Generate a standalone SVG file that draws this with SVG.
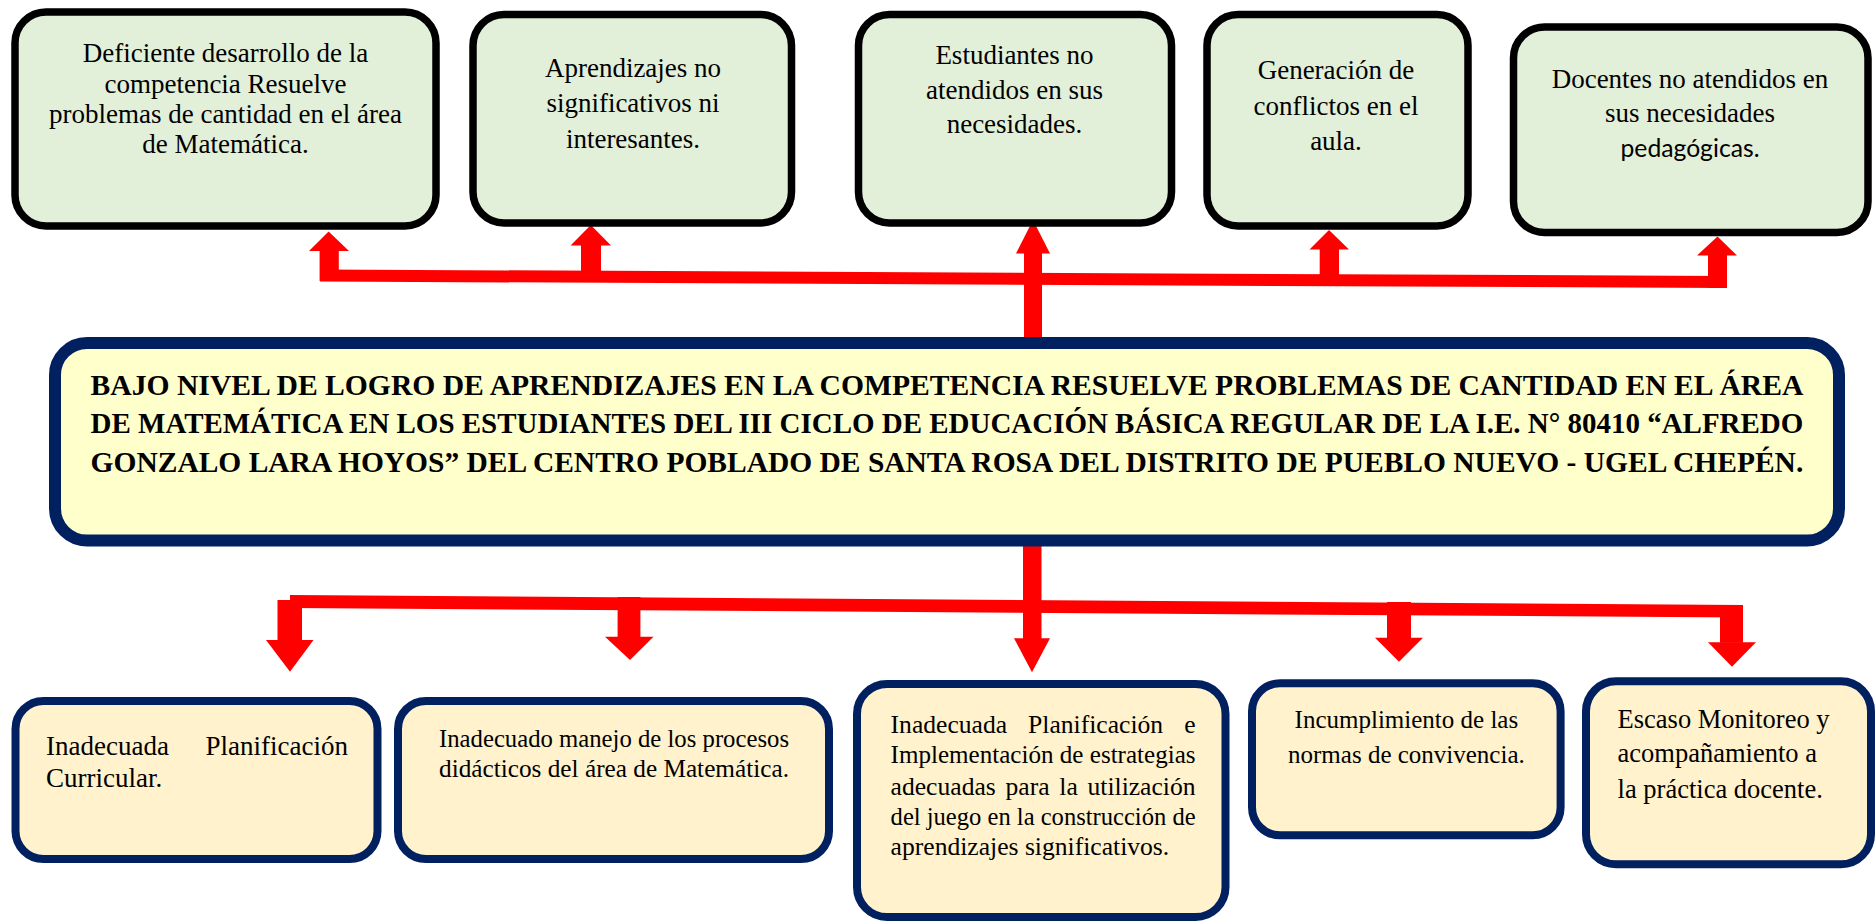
<svg xmlns="http://www.w3.org/2000/svg" width="1876" height="921" viewBox="0 0 1876 921">
<style>
.top{fill:#E2EFD9;stroke:#000;stroke-width:7.5}
.main{fill:#FFFFCC;stroke:#002060;stroke-width:12}
.bot{fill:#FFF2CC;stroke:#002060;stroke-width:8}
.t{font-family:"Liberation Serif","Times New Roman",serif;font-size:27px;fill:#000}
.s{font-family:Lato,"Liberation Sans",sans-serif;font-size:24.5px;fill:#000}
.m{text-anchor:middle}
.e{text-anchor:end}
.b{font-weight:bold;font-size:29px}
.red{fill:#FF0000}
</style>
<rect width="1876" height="921" fill="#fff"/>
<g id="connectors" class="red">
  <polygon points="320,269.5 1727,276 1727,288 320,281.5"/>
  <rect x="319.6" y="250" width="19.2" height="31"/>
  <rect x="581" y="244.5" width="20" height="28"/>
  <rect x="1024" y="253" width="18" height="86"/>
  <rect x="1319.7" y="249" width="19.3" height="27"/>
  <rect x="1708" y="254.5" width="19" height="33.5"/>
  <polygon points="309,251 349,251 328.6,231.5"/>
  <polygon points="570.6,245.5 611,245.5 590.8,225"/>
  <polygon points="1016,253.5 1050,253.5 1033,220"/>
  <polygon points="1309.5,249.5 1349,249.5 1329,230"/>
  <polygon points="1697,255.5 1737,255.5 1717.5,236.5"/>
  <polygon points="290,595 1743,605 1743,617.5 290,608"/>
  <rect x="1023" y="540" width="18.5" height="99"/>
  <rect x="277.5" y="600" width="24.5" height="40.5"/>
  <rect x="617.6" y="597" width="22.8" height="40.2"/>
  <rect x="1387" y="602" width="24" height="36.2"/>
  <rect x="1720" y="605" width="23" height="37.8"/>
  <polygon points="266,640 313.5,640 290,671.7"/>
  <polygon points="605,636.7 653.5,636.7 630,660"/>
  <polygon points="1014,638.3 1050,638.3 1032,672.3"/>
  <polygon points="1375,637.7 1423,637.7 1399,661.7"/>
  <polygon points="1708,642.3 1756,642.3 1732,666.7"/>
</g>
<g id="effect1">
  <rect class="top" x="15" y="12" width="421" height="214" rx="31"/>
  <text class="t m" x="225.5" y="62">Deficiente desarrollo de la</text>
  <text class="t m" x="225.5" y="92.5">competencia Resuelve</text>
  <text class="t m" x="225.5" y="122.5">problemas de cantidad en el área</text>
  <text class="t m" x="225.5" y="153">de Matemática.</text>
</g>
<g id="effect2">
  <rect class="top" x="473" y="14.5" width="318.5" height="208.5" rx="31"/>
  <text class="t m" x="633" y="77">Aprendizajes no</text>
  <text class="t m" x="633" y="111.5">significativos ni</text>
  <text class="t m" x="633" y="147.5">interesantes.</text>
</g>
<g id="effect3">
  <rect class="top" x="858.5" y="14.5" width="313" height="208.5" rx="31"/>
  <text class="t m" x="1014.5" y="63.5">Estudiantes no</text>
  <text class="t m" x="1014.5" y="98.5">atendidos en sus</text>
  <text class="t m" x="1014.5" y="133">necesidades.</text>
</g>
<g id="effect4">
  <rect class="top" x="1207" y="14.5" width="261" height="211.5" rx="31"/>
  <text class="t m" x="1336" y="78.5">Generación de</text>
  <text class="t m" x="1336" y="114.5">conflictos en el</text>
  <text class="t m" x="1336" y="150">aula.</text>
</g>
<g id="effect5">
  <rect class="top" x="1513.5" y="27" width="354.5" height="205.5" rx="31"/>
  <text class="t m" x="1690" y="87.5">Docentes no atendidos en</text>
  <text class="t m" x="1690" y="122">sus necesidades</text>
  <text class="s m" x="1690" y="157" textLength="139" lengthAdjust="spacingAndGlyphs">pedagógicas.</text>
</g>
<g id="problem">
  <rect class="main" x="55" y="343" width="1784" height="197.5" rx="32"/>
  <text class="t b" x="90.6" y="395" textLength="1712.7" lengthAdjust="spacingAndGlyphs">BAJO NIVEL DE LOGRO DE APRENDIZAJES EN LA COMPETENCIA RESUELVE PROBLEMAS DE CANTIDAD EN EL ÁREA</text>
  <text class="t b" x="90.6" y="433.3" textLength="1712.7" lengthAdjust="spacingAndGlyphs">DE MATEMÁTICA EN LOS ESTUDIANTES DEL III CICLO DE EDUCACIÓN BÁSICA REGULAR DE LA I.E. N° 80410 “ALFREDO</text>
  <text class="t b" x="90.6" y="471.7" textLength="1712.7" lengthAdjust="spacingAndGlyphs">GONZALO LARA HOYOS” DEL CENTRO POBLADO DE SANTA ROSA DEL DISTRITO DE PUEBLO NUEVO - UGEL CHEPÉN.</text>
</g>
<g id="cause1">
  <rect class="bot" x="15.5" y="701" width="362" height="158" rx="28"/>
  <text class="t" x="46" y="755">Inadecuada</text>
  <text class="t e" x="348" y="755">Planificación</text>
  <text class="t" x="46" y="786.7">Curricular.</text>
</g>
<g id="cause2">
  <rect class="bot" x="398" y="701" width="431" height="158" rx="28"/>
  <text class="t" x="439" y="746.7" style="font-size:25.5px" textLength="350" lengthAdjust="spacingAndGlyphs">Inadecuado manejo de los procesos</text>
  <text class="t" x="439" y="776.7" style="font-size:25.5px" textLength="350" lengthAdjust="spacingAndGlyphs">didácticos del área de Matemática.</text>
</g>
<g id="cause3">
  <rect class="bot" x="857" y="684" width="368.5" height="233" rx="30"/>
  <text class="t" style="font-size:25.6px" y="733.3"><tspan x="890.6">Inadecuada</tspan><tspan x="1028.1">Planificación</tspan><tspan x="1184.2">e</tspan></text>
  <text class="t" style="font-size:25.6px" x="890.6" y="763.3" textLength="305" lengthAdjust="spacingAndGlyphs">Implementación de estrategias</text>
  <text class="t" style="font-size:25.6px" y="795"><tspan x="890.6">adecuadas</tspan><tspan x="1005.5">para</tspan><tspan x="1059.3">la</tspan><tspan x="1087.5">utilización</tspan></text>
  <text class="t" style="font-size:25.6px" x="890.6" y="825" textLength="305" lengthAdjust="spacingAndGlyphs">del juego en la construcción de</text>
  <text class="t" style="font-size:25.6px" x="890.6" y="855">aprendizajes significativos.</text>
</g>
<g id="cause4">
  <rect class="bot" x="1252" y="683.3" width="308.6" height="152" rx="28"/>
  <text class="t m" style="font-size:25px" x="1406.4" y="728.3">Incumplimiento de las</text>
  <text class="t m" style="font-size:25px" x="1406.4" y="762.7">normas de convivencia.</text>
</g>
<g id="cause5">
  <rect class="bot" x="1586" y="681.3" width="285" height="183" rx="30"/>
  <text class="t" style="font-size:26.5px" x="1617.6" y="727.7">Escaso Monitoreo y</text>
  <text class="t" style="font-size:26.5px" x="1617.6" y="762.3">acompañamiento a</text>
  <text class="t" style="font-size:26.5px" x="1617.6" y="798.3">la práctica docente.</text>
</g>
</svg>
